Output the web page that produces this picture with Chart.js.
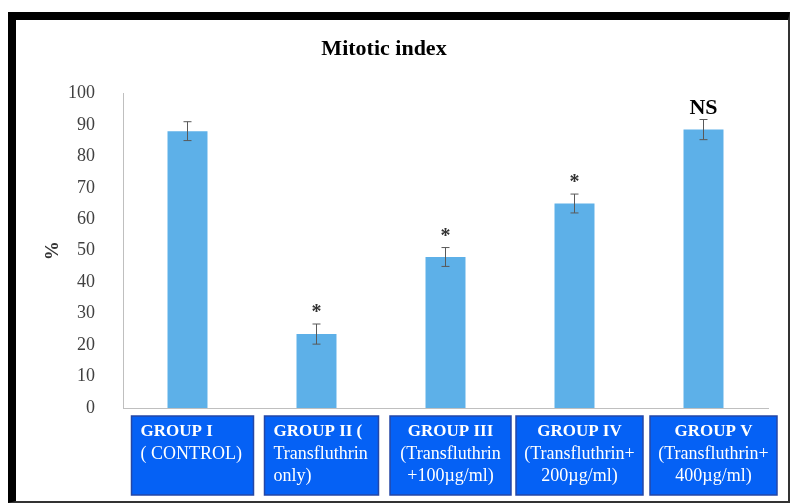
<!DOCTYPE html>
<html lang="en">
<head>
    <meta charset="UTF-8">
    <title>Mitotic index</title>
    <script src="https://cdn.jsdelivr.net/npm/chart.js"></script>
    <style>
        body { margin: 0; background: #fff; }
        #frame {
            position: absolute; left: 8px; top: 12px; width: 772px; height: 481px;
            border-top: 8px solid #000; border-left: 8px solid #000;
            border-right: 2px solid #333; border-bottom: 2px solid #333;
        }
        #chart { position: absolute; left: 0; top: 0; }
    </style>
</head>
<body>
    <div id="frame"></div>
    <canvas id="chart" width="792" height="504"></canvas>
    <script>
        const groups = [
            ['GROUP I', '( CONTROL)'],
            ['GROUP II (', 'Transfluthrin', 'only)'],
            ['GROUP III', '(Transfluthrin', '+100\u00b5g/ml)'],
            ['GROUP IV', '(Transfluthrin+', '200\u00b5g/ml)'],
            ['GROUP V', '(Transfluthrin+', '400\u00b5g/ml)']
        ];
        const mitoticIndex = [88, 23.5, 48, 65, 88.5];
        const errors = [3, 3.2, 3, 3, 3.2];
        const marks = ['', '*', '*', '*', 'NS'];

        // label box look, one entry per group
        const boxWidth = [122, 114, 121, 127, 127];
        const boxShift = [5, 5, 5, 5, 10];
        const boxAlign = ['left', 'left', 'center', 'center', 'center'];

        const serif = '"Liberation Serif", "Times New Roman", serif';

        const errorBars = {
            id: 'errorBars',
            afterDatasetsDraw(chart) {
                const ctx = chart.ctx;
                const y = chart.scales.y;
                const meta = chart.getDatasetMeta(0);
                ctx.save();
                meta.data.forEach((bar, i) => {
                    const v = mitoticIndex[i];
                    const top = y.getPixelForValue(v + errors[i]);
                    const bot = y.getPixelForValue(v - errors[i]);
                    ctx.strokeStyle = '#595959';
                    ctx.lineWidth = 1;
                    ctx.beginPath();
                    ctx.moveTo(bar.x, top); ctx.lineTo(bar.x, bot);
                    ctx.moveTo(bar.x - 4, top); ctx.lineTo(bar.x + 4, top);
                    ctx.moveTo(bar.x - 4, bot); ctx.lineTo(bar.x + 4, bot);
                    ctx.stroke();
                    if (marks[i]) {
                        ctx.fillStyle = marks[i] === '*' ? '#333' : '#000';
                        ctx.font = 'bold ' + (marks[i] === '*' ? 20 : 22) + 'px ' + serif;
                        ctx.textAlign = 'center';
                        ctx.textBaseline = 'alphabetic';
                        ctx.fillText(marks[i], bar.x, top - 6);
                    }
                });
                ctx.restore();
            }
        };

        const labelBoxes = {
            id: 'labelBoxes',
            afterDraw(chart) {
                const ctx = chart.ctx;
                const x = chart.scales.x;
                const base = chart.chartArea.bottom;
                ctx.save();
                groups.forEach((lines, i) => {
                    const cx = x.getPixelForTick(i) + boxShift[i];
                    const left = cx - boxWidth[i] / 2;
                    const top = base + 8;
                    ctx.fillStyle = '#0561F5';
                    ctx.fillRect(left, top, boxWidth[i], 79);
                    ctx.strokeStyle = '#2447A6';
                    ctx.lineWidth = 1.5;
                    ctx.strokeRect(left, top, boxWidth[i], 79);
                    ctx.fillStyle = '#fff';
                    ctx.textBaseline = 'middle';
                    ctx.textAlign = boxAlign[i];
                    const tx = boxAlign[i] === 'left' ? left + 9 : cx;
                    lines.forEach((t, j) => {
                        ctx.font = (j === 0 ? 'bold 17px ' : '18px ') + serif;
                        ctx.fillText(t, tx, top + 16 + j * 22);
                    });
                });
                ctx.restore();
            }
        };

        new Chart(document.getElementById('chart'), {
            type: 'bar',
            data: {
                labels: groups.map(g => g.join(' ')),
                datasets: [{
                    data: mitoticIndex,
                    backgroundColor: '#5DB0E8',
                    barPercentage: 0.31,
                    categoryPercentage: 1
                }]
            },
            options: {
                responsive: false,
                animation: false,
                layout: { padding: { left: 0, right: 24, top: 0, bottom: 0 } },
                plugins: {
                    legend: { display: false },
                    tooltip: { enabled: false },
                    title: {
                        display: true,
                        text: 'Mitotic index',
                        color: '#000',
                        font: { family: serif, size: 22, weight: 'bold' },
                        padding: { top: 36, bottom: 31 }
                    }
                },
                scales: {
                    x: {
                        grid: { display: false },
                        border: { color: '#BFBFBF' },
                        ticks: { display: false },
                        afterFit: s => { s.height = 96; }
                    },
                    y: {
                        min: 0,
                        max: 100,
                        grid: { display: false },
                        border: { color: '#BFBFBF' },
                        ticks: {
                            stepSize: 10,
                            color: '#404040',
                            padding: 20,
                            font: { family: serif, size: 18 }
                        },
                        title: {
                            display: true,
                            text: '%',
                            color: '#333',
                            font: { family: serif, size: 19, weight: 'bold' },
                            padding: { top: 42, bottom: 0 }
                        },
                        afterFit: s => { s.width = 123; }
                    }
                }
            },
            plugins: [errorBars, labelBoxes]
        });
    </script>
</body>
</html>
